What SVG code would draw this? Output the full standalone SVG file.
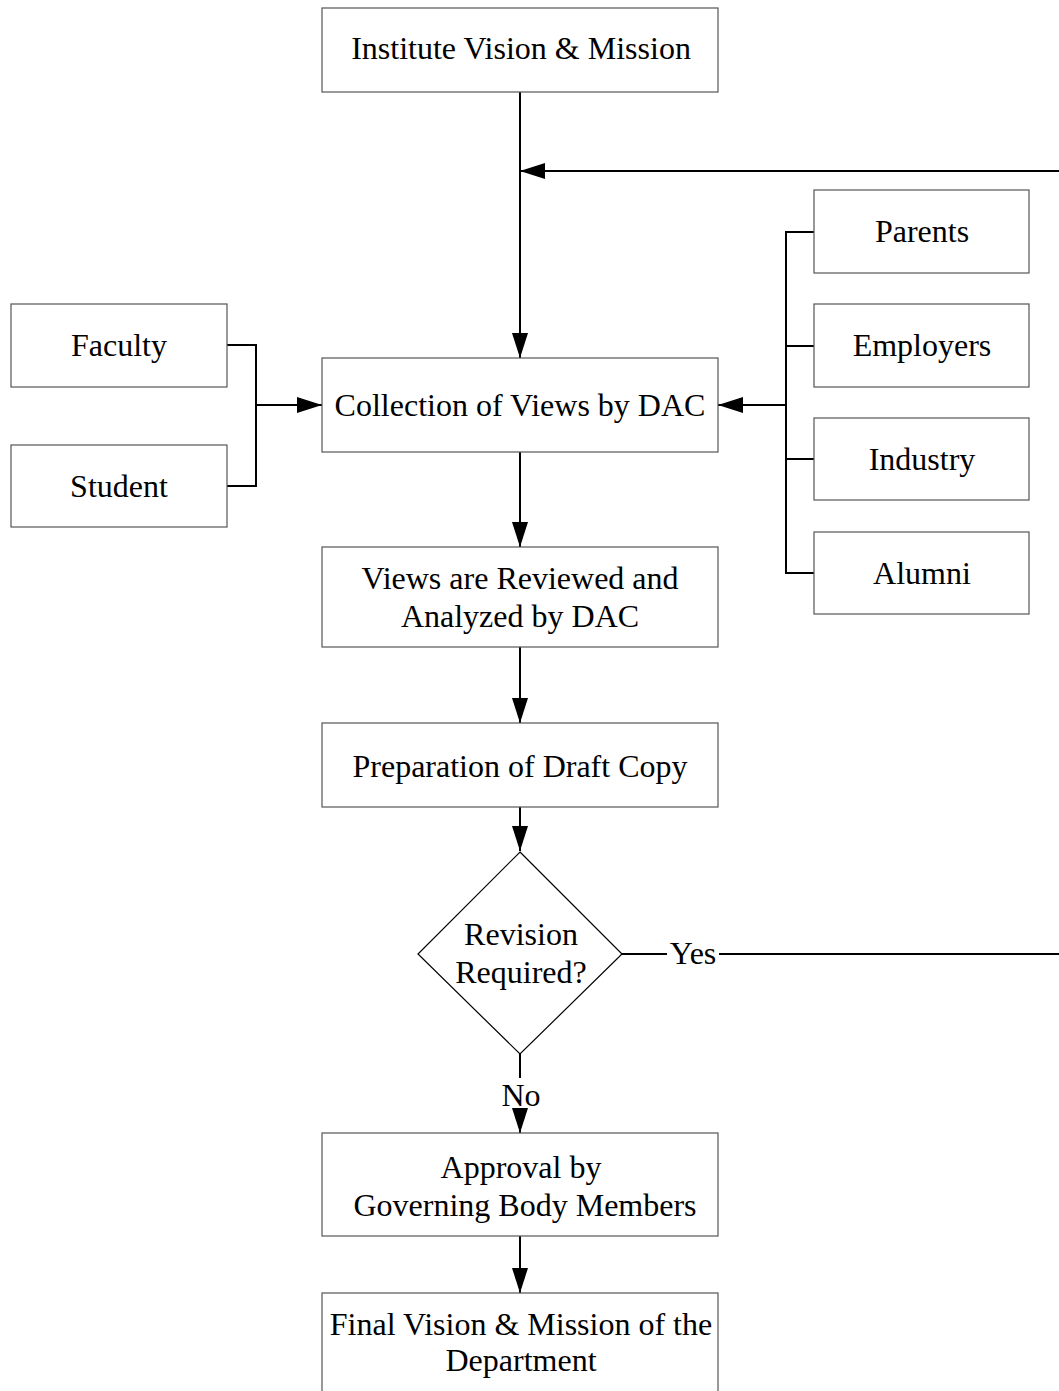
<svg xmlns="http://www.w3.org/2000/svg" width="1059" height="1391" viewBox="0 0 1059 1391">
  <style>
    .box { fill: #fff; stroke: #555; stroke-width: 1.2; }
    .lbl { font-family: "Liberation Serif", Tinos, "Times New Roman", "DejaVu Serif", serif; font-size: 32px; fill: #000; text-anchor: middle; }
    .ln { fill: none; stroke: #000; stroke-width: 2; }
  </style>
  <defs>
    <marker id="arr" viewBox="0 0 25 16" markerWidth="25" markerHeight="16" refX="25" refY="8" orient="auto" markerUnits="userSpaceOnUse">
      <path d="M0,0 L25,8 L0,16 Z" fill="#000"/>
    </marker>
  </defs>
  <rect width="1059" height="1391" fill="#fff"/>

  <g id="connectors">
    <path class="ln" d="M520,92 V358" marker-end="url(#arr)"/>
    <path class="ln" d="M1059,171 H520" marker-end="url(#arr)"/>
    <path class="ln" d="M227,345 H256 V486 H227"/>
    <path class="ln" d="M256,405 H322" marker-end="url(#arr)"/>
    <path class="ln" d="M814,232 H786 V573 H814 M786,346 H814 M786,459 H814"/>
    <path class="ln" d="M786,405 H718" marker-end="url(#arr)"/>
    <path class="ln" d="M520,452 V547" marker-end="url(#arr)"/>
    <path class="ln" d="M520,647 V723" marker-end="url(#arr)"/>
    <path class="ln" d="M520,807 V851" marker-end="url(#arr)"/>
    <path class="ln" d="M622,954 H667 M719,954 H1059"/>
    <text class="lbl" x="693" y="964">Yes</text>
    <path class="ln" d="M520,1054 V1078"/>
    <text class="lbl" x="521" y="1106">No</text>
    <path class="ln" d="M520,1112 V1133" marker-end="url(#arr)"/>
    <path class="ln" d="M520,1236 V1293" marker-end="url(#arr)"/>
  </g>

  <g id="institute">
    <rect class="box" x="322" y="8" width="396" height="84"/>
    <text class="lbl" x="521" y="59">Institute Vision &amp; Mission</text>
  </g>
  <g id="faculty">
    <rect class="box" x="11" y="304" width="216" height="83"/>
    <text class="lbl" x="119" y="356">Faculty</text>
  </g>
  <g id="student">
    <rect class="box" x="11" y="445" width="216" height="82"/>
    <text class="lbl" x="119" y="497">Student</text>
  </g>
  <g id="parents">
    <rect class="box" x="814" y="190" width="215" height="83"/>
    <text class="lbl" x="922" y="242">Parents</text>
  </g>
  <g id="employers">
    <rect class="box" x="814" y="304" width="215" height="83"/>
    <text class="lbl" x="922" y="356">Employers</text>
  </g>
  <g id="industry">
    <rect class="box" x="814" y="418" width="215" height="82"/>
    <text class="lbl" x="922" y="470">Industry</text>
  </g>
  <g id="alumni">
    <rect class="box" x="814" y="532" width="215" height="82"/>
    <text class="lbl" x="922" y="584">Alumni</text>
  </g>
  <g id="collection">
    <rect class="box" x="322" y="358" width="396" height="94"/>
    <text class="lbl" x="520" y="416">Collection of Views by DAC</text>
  </g>
  <g id="review">
    <rect class="box" x="322" y="547" width="396" height="100"/>
    <text class="lbl" x="520" y="589">Views are Reviewed and</text>
    <text class="lbl" x="520" y="627">Analyzed by DAC</text>
  </g>
  <g id="draft">
    <rect class="box" x="322" y="723" width="396" height="84"/>
    <text class="lbl" x="520" y="777">Preparation of Draft Copy</text>
  </g>
  <g id="decision">
    <path d="M520,852 L622,954 L520,1054 L418,954 Z" fill="#fff" stroke="#000" stroke-width="1.2"/>
    <text class="lbl" x="521" y="945">Revision</text>
    <text class="lbl" x="521" y="983">Required?</text>
  </g>
  <g id="approval">
    <rect class="box" x="322" y="1133" width="396" height="103"/>
    <text class="lbl" x="521" y="1178">Approval by</text>
    <text class="lbl" x="525" y="1216">Governing Body Members</text>
  </g>
  <g id="final">
    <rect class="box" x="322" y="1293" width="396" height="120"/>
    <text class="lbl" x="521" y="1335">Final Vision &amp; Mission of the</text>
    <text class="lbl" x="521" y="1371">Department</text>
  </g>
</svg>
